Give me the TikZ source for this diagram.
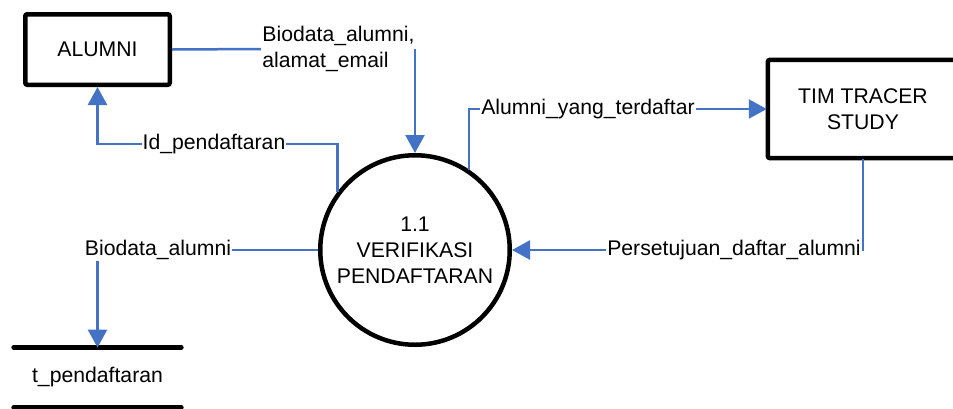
\documentclass[tikz,border=0pt]{standalone}
\usepackage{fontspec}
\setmainfont{Liberation Sans}
\usetikzlibrary{arrows.meta,calc}
\definecolor{flowblue}{RGB}{68,114,196}
\begin{document}
\begin{tikzpicture}[x=0.5pt,y=-0.5pt,
  font=\fontsize{10.6}{13}\selectfont,
  entity/.style={draw, line width=2.25pt, rounded corners=1pt, align=center, inner sep=0pt},
  entityline/.style={line width=2.25pt, rounded corners=1pt},
  process/.style={circle, draw, line width=2.25pt, minimum size=94.75pt, align=center, inner sep=0pt},
  flow/.style={draw=flowblue, line width=1.25pt},
  flowarrow/.style={flow, -{Triangle[width=9.5pt,length=9pt]}},
  flowlabel/.style={fill=white, inner sep=0.5pt, text=black}]
\useasboundingbox (0,0) rectangle (953,408);
\clip (0,0) rectangle (953,408);

% nodes
\node[entity, minimum width=72.25pt, minimum height=35.25pt] (alumni) at (97.5,49.5) {ALUMNI};
\node[align=center, inner sep=0pt, outer sep=1.125pt, minimum width=94pt, minimum height=48pt] (tim) at (863,109) {TIM TRACER\\STUDY};
% the box of TIM TRACER STUDY runs past the right edge of the picture
\draw[entityline] ($(tim.north east)+(40,1.125)$) -- ($(tim.north west)+(1.125,1.125)$)
  -- ($(tim.south west)+(1.125,-1.125)$) -- ($(tim.south east)+(40,-1.125)$);
\node[process] (proc) at (415,250) {1.1\\VERIFIKASI\\PENDAFTARAN};
\node[minimum width=83.5pt, minimum height=29.5pt, inner sep=0pt] (store) at (97.5,377.5) {t\_pendaftaran};
\draw[line width=2.25pt, line cap=round] (store.north west) -- (store.north east)
  (store.south west) -- (store.south east);

% coordinates
\coordinate (b1) at (415,49);
\coordinate (r2) at (0,144);

% label for flow 1
\node[inner sep=0.5pt, anchor=west, align=left] (l1) at (261,49) {Biodata\_alumni,\\alamat\_email};

% flows
\draw[flow] (alumni.east) -- (l1.west);
\draw[flowarrow] (b1) -- (proc.north);
\draw[flowarrow] (proc.143) -- (proc.143 |- r2) -- (alumni.south |- r2) -- (alumni.south);
\draw[flowarrow] (proc.56.5) |- (tim.west);
\draw[flowarrow] (tim.south) |- (proc.east);
\draw[flowarrow] (proc.west) -| (store.north);

% labels
\node[flowlabel] (l2) at (214,144) {Id\_pendaftaran};
\node[flowlabel] (l3) at (588,109) {Alumni\_yang\_terdaftar};
\node[flowlabel] (l4) at (734,250) {Persetujuan\_daftar\_alumni};
\node[flowlabel] (l5) at (158,250) {Biodata\_alumni};
\end{tikzpicture}
\end{document}
